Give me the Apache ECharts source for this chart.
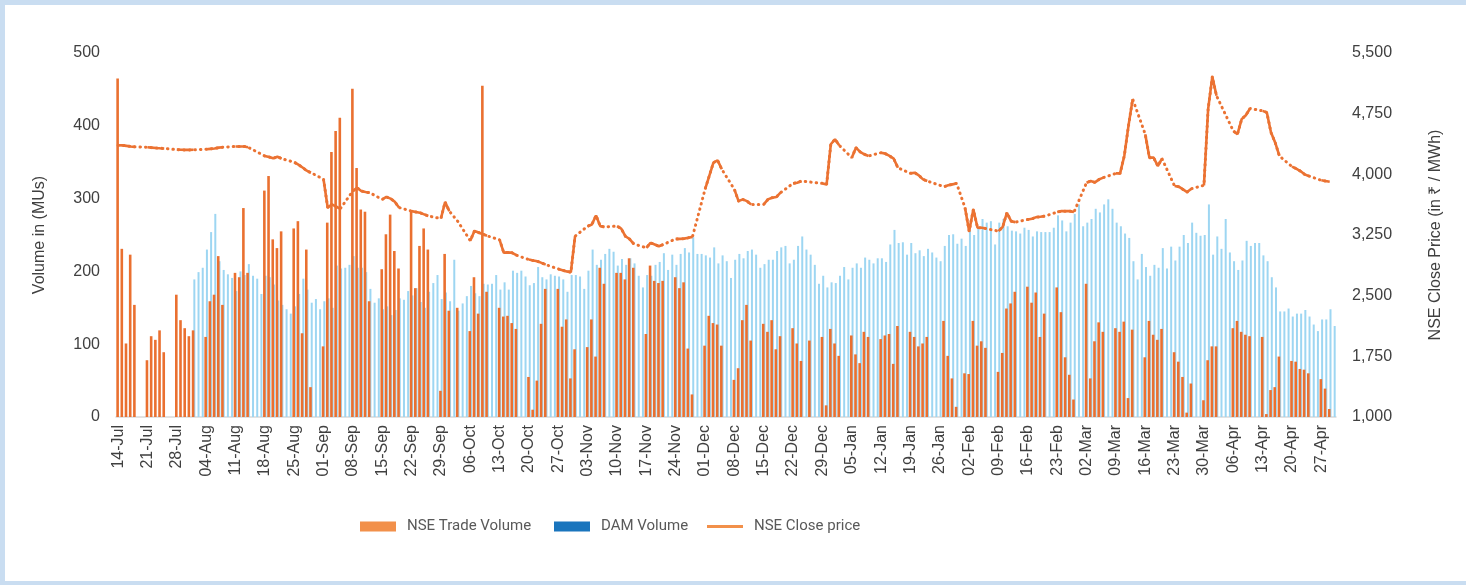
<!DOCTYPE html>
<html>
<head>
<meta charset="utf-8">
<title>NSE vs DAM</title>
<script src="https://cdn.jsdelivr.net/npm/echarts@6/dist/echarts.min.js"></script>
<style>
  html, body { margin: 0; padding: 0; width: 1466px; height: 585px; overflow: hidden; background: #c9ddf1; }
  #card { position: absolute; left: 5px; top: 5px; right: 0; bottom: 4px; background: #ffffff; }
  #main { position: absolute; left: 0; top: 0; width: 1466px; height: 585px; }
</style>
</head>
<body>
<div id="card"></div>
<div id="main"></div>
<script>
// one slot per calendar day, 14-Jul to 30-Apr
const startDay = new Date(2025, 6, 14);
const dayCount = 291;
const monthNames = ['Jan', 'Feb', 'Mar', 'Apr', 'May', 'Jun', 'Jul', 'Aug', 'Sep', 'Oct', 'Nov', 'Dec'];
const days = [];
for (let i = 0; i < dayCount; i++) {
  const d = new Date(startDay.getFullYear(), startDay.getMonth(), startDay.getDate() + i);
  days.push(String(d.getDate()).padStart(2, '0') + '-' + monthNames[d.getMonth()]);
}

// NSE Trade Volume (MUs), Mon..Sun per row, null = no session
const nseVolume = [
  465, 231, 101, 223, 154, null, null,
  78, 111, 106, 119, 89, null, null,
  168, 133, 122, 111, 119, null, null,
  110, 159, 168, 221, 154, null, null,
  198, 192, 287, 198, null, null, null,
  311, 331, 244, 232, 255, null, null,
  259, 269, 115, 230, 41, null, null,
  97, 267, 364, 393, 411, null, null,
  451, 342, 285, 282, 159, null, null,
  203, 251, 278, 228, 204, null, null,
  283, 177, 235, 259, 230, null, null,
  36, 224, 146, null, 150, null, null,
  118, 192, 142, 455, 172, null, null,
  150, 138, 139, 129, 121, null, null,
  55, 10, 50, 128, 176, null, null,
  176, 124, 134, 53, 93, null, null,
  96, 134, 83, 205, 183, null, null,
  198, 198, 189, 218, 205, null, null,
  114, 208, 187, 184, 187, null, null,
  192, 177, 185, 94, 31, null, null,
  98, 139, 129, 127, 98, null, null,
  51, 67, 133, 154, 105, null, null,
  128, 117, 133, 93, 111, null, null,
  122, 101, 77, null, 105, null, null,
  110, 16, 121, 101, 84, null, null,
  112, 86, 74, 117, 110, null, null,
  107, 112, 114, 73, 125, null, null,
  117, 110, 97, 101, 110, null, null,
  null, 132, 84, 53, 14, null, 60,
  59, 132, 98, 104, 95, null, null,
  62, 88, 149, 156, 172, null, null,
  179, 157, 171, 110, 142, null, null,
  178, 144, 82, 58, 24, null, null,
  183, 53, 104, 130, 117, null, null,
  122, 117, 131, 26, 120, null, null,
  82, 132, 113, 106, 121, null, null,
  89, 76, 55, 6, 46, null, null,
  23, 78, 97, 97, null, null, null,
  122, 132, 117, 113, 111, null, null,
  110, 4, 37, 41, 83, null, null,
  77, 76, 66, 65, 60, null, null,
  52, 39, 11, null
];

// DAM Volume (MUs)
const damVolume = [
  null, null, null, null, null, null, null,
  null, null, null, null, null, null, null,
  null, null, null, null, 189, 199, 205,
  230, 254, 279, 214, 202, 196, 191,
  173, 200, 195, 210, 194, 190, 169,
  194, 192, 182, 160, 154, 148, 142,
  152, 169, 190, 175, 157, 162, 148,
  159, 163, 150, 208, 204, 205, 209,
  221, 205, 205, 199, 176, 157, 163,
  148, 152, 140, 147, 163, 161, 173,
  167, 177, 158, 150, 172, 184, 195,
  162, 171, 159, 216, 146, 156, 166,
  180, 170, 166, 183, 182, 183, 195,
  175, 185, 175, 201, 198, 201, 193,
  181, 184, 206, 192, 189, 196, 194,
  193, 189, 172, 195, 195, 193, 176,
  201, 230, 209, 216, 224, 231, 227,
  208, 217, 209, 218, 211, 194, 178,
  195, 194, 209, 213, 225, 202, 223,
  209, 224, 232, 226, 247, 224, 224,
  222, 219, 233, 211, 222, 214, 191,
  216, 224, 218, 228, 230, 223, 205,
  210, 216, 216, 228, 233, 235, 211,
  216, 235, 248, 230, 223, 209, 183,
  194, 178, 185, 184, 194, 206, 189,
  205, 211, 205, 219, 216, 211, 218,
  218, 213, 237, 257, 239, 240, 223,
  239, 225, 229, 221, 231, 226, 219,
  214, 235, 250, 251, 238, 245, 235,
  256, 250, 260, 272, 267, 269, 237,
  267, 272, 262, 256, 255, 252, 260,
  257, 248, 255, 254, 254, 254, 260,
  277, 270, 255, 267, 279, 292, 262,
  267, 272, 286, 281, 292, 299, 286,
  267, 262, 252, 246, 214, 189, 224,
  206, 194, 209, 205, 232, 204, 234,
  215, 234, 250, 239, 267, 253, 249,
  250, 292, 223, 248, 231, 272, 226,
  214, 202, 215, 242, 235, 239, 239,
  222, 214, 192, 178, 145, 145, 149,
  138, 142, 142, 147, 138, 127, 118,
  134, 134, 148, 125
];

// NSE Close price (Rs / MWh)
const nsePrice = [
  4360, 4358, 4352, 4345, 4340, null, null,
  4335, 4330, 4325, 4322, 4320, null, null,
  4305, 4303, 4302, 4302, 4303, null, null,
  4310, 4315, 4320, 4330, 4335, null, null,
  4345, 4345, 4345, 4335, null, null, null,
  4227, 4215, 4198, 4218, 4194, null, null,
  4150, 4120, 4085, 4045, 4020, null, null,
  3940, 3587, 3628, 3600, 3575, null, null,
  3794, 3835, 3794, 3781, 3773, null, null,
  3690, 3720, 3700, 3660, 3590, null, null,
  3545, 3535, 3525, 3505, 3485, null, null,
  3454, 3657, 3545, null, 3420, null, null,
  3180, 3300, 3280, 3260, 3240, null, null,
  3190, 3030, 3035, 3030, 3000, null, null,
  2946, 2934, 2925, 2905, 2884, null, null,
  2830, 2815, 2800, 2790, 3235, null, null,
  3359, 3380, 3492, 3360, 3350, null, null,
  3360, 3330, 3235, 3200, 3140, null, null,
  3091, 3153, 3132, 3111, 3132, null, null,
  3202, 3202, 3205, 3215, 3227, null, null,
  3814, 3979, 4144, 4173, 4062, null, null,
  3814, 3669, 3690, 3669, 3628, null, null,
  3628, 3690, 3711, 3719, 3773, null, null,
  3888, 3897, 3917, null, 3905, null, null,
  3888, 3876, 4372, 4434, 4359, null, null,
  4206, 4330, 4277, 4248, 4227, null, null,
  4268, 4256, 4227, 4194, 4082, null, null,
  4012, 4020, 3987, 3938, 3917, null, null,
  null, 3847, 3864, 3876, 3888, null, 3590,
  3297, 3566, 3339, 3339, 3330, null, null,
  3297, 3350, 3525, 3421, 3409, null, null,
  3442, 3450, 3471, 3475, 3483, null, null,
  3533, 3545, 3545, 3545, 3533, null, null,
  3897, 3917, 3900, 3938, 3959, null, null,
  4012, 4012, 4227, 4599, 4930, null, null,
  4496, 4206, 4206, 4103, 4194, null, null,
  3855, 3847, 3814, 3781, 3822, null, null,
  3864, 4806, 5206, 4971, null, null, null,
  4537, 4496, 4682, 4731, 4814, null, null,
  4785, 4764, 4516, 4392, 4227, null, null,
  4095, 4070, 4041, 4000, 3979, null, null,
  3926, 3917, 3909, null
];

// right axis tick labels
const priceTicks = [1000, 1750, 2500, 3250, 4000, 4750, 5500];

const textColor = '#404040';
const axisFont = 'Liberation Sans, Arial, sans-serif';
const legendFont = 'Roboto, sans-serif';
const legendText = { fontFamily: legendFont, fontSize: 15, color: '#595959', padding: [0, 0, 0, 6] };

let myChart = echarts.init(document.getElementById('main'));

myChart.setOption({
  animation: false,
  grid: { left: 116, right: 130, top: 53, bottom: 168 },
  legend: [
    { left: 360, top: 519, padding: 0, itemWidth: 36, itemHeight: 10, textStyle: legendText,
      data: [{ name: 'NSE Trade Volume', icon: 'rect', itemStyle: { color: '#f2904a' } }] },
    { left: 554, top: 519, padding: 0, itemWidth: 36, itemHeight: 10, textStyle: legendText,
      data: [{ name: 'DAM Volume', icon: 'rect', itemStyle: { color: '#1a75bd' } }] },
    { left: 707, top: 519, padding: 0, itemWidth: 36, itemHeight: 3, textStyle: legendText,
      data: [{ name: 'NSE Close price', icon: 'rect', itemStyle: { color: '#f2904a' } }] }
  ],
  xAxis: {
    type: 'category',
    data: days,
    axisLine: { lineStyle: { color: '#d9d9d9', width: 1.5 } },
    axisTick: { show: false },
    axisLabel: { interval: 6, rotate: 90, color: textColor, fontSize: 16, fontFamily: axisFont, margin: 8 }
  },
  yAxis: [
    {
      type: 'value',
      min: 0,
      max: 500,
      interval: 100,
      name: 'Volume in (MUs)',
      nameLocation: 'middle',
      nameGap: 68,
      nameTextStyle: { color: textColor, fontSize: 16, fontFamily: axisFont },
      axisLine: { show: false },
      axisTick: { show: false },
      splitLine: { show: false },
      axisLabel: { color: textColor, fontSize: 16, fontFamily: axisFont, margin: 16 }
    },
    {
      type: 'value',
      min: 1000,
      max: 5500,
      position: 'right',
      name: 'NSE Close Price (in ₹ / MWh)',
      nameLocation: 'middle',
      nameGap: 92,
      nameRotate: 90,
      nameTextStyle: { color: textColor, fontSize: 16, fontFamily: axisFont },
      axisLine: { show: false },
      axisTick: { show: false, customValues: priceTicks },
      splitLine: { show: false },
      axisLabel: {
        customValues: priceTicks,
        color: textColor,
        fontSize: 16,
        fontFamily: axisFont,
        margin: 16,
        formatter: function (v) { return Number(v).toLocaleString('en-US'); }
      }
    }
  ],
  series: [
    {
      name: 'NSE Trade Volume',
      type: 'bar',
      data: nseVolume,
      barWidth: 2.6,
      barGap: '-40%',
      itemStyle: { color: '#ea7030' },
      z: 3
    },
    {
      name: 'DAM Volume',
      type: 'bar',
      data: damVolume,
      barWidth: 2,
      barGap: '-40%',
      itemStyle: { color: '#9dd6f2' },
      z: 2
    },
    {
      // dotted joins across days without a session
      name: 'price-gap',
      type: 'line',
      yAxisIndex: 1,
      data: nsePrice,
      connectNulls: true,
      symbol: 'none',
      silent: true,
      lineStyle: { color: '#eb7232', width: 3, type: [0.5, 5], cap: 'round' },
      z: 4
    },
    {
      name: 'NSE Close price',
      type: 'line',
      yAxisIndex: 1,
      data: nsePrice,
      connectNulls: false,
      symbol: 'none',
      lineStyle: { color: '#eb7232', width: 2.6 },
      itemStyle: { color: '#eb7232' },
      z: 5
    }
  ]
});
</script>
</body>
</html>
